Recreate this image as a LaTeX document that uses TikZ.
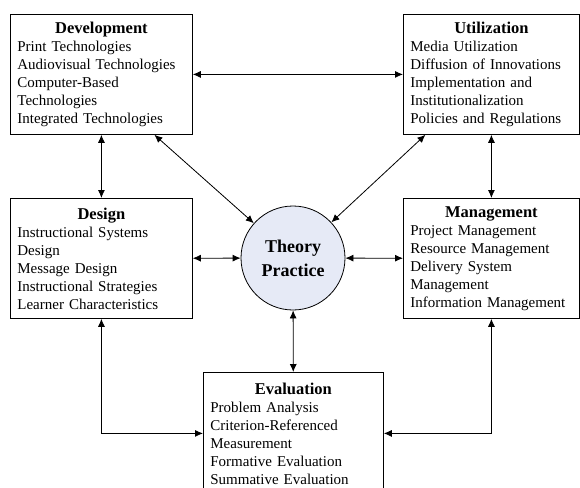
\documentclass[tikz,border=0pt]{standalone}
\usepackage{fontspec}
\setmainfont{Liberation Serif}
\usetikzlibrary{arrows.meta}
\definecolor{tpblue}{RGB}{230,234,246}
\tikzset{
	area/.style={draw, anchor=north west, text width=#1, align=left, inner xsep=7pt, minimum height=120pt, font=\fontsize{15}{18}\selectfont},
	hub/.style={draw, circle, fill=tpblue, minimum size=104pt, align=center, font=\fontsize{18}{24}\selectfont\bfseries}
}
\newcommand{\areatitle}[1]{\hbox to\hsize{\hss\fontsize{16.5}{19}\selectfont\bfseries #1\hss}\\}
\begin{document}
\begin{tikzpicture}[x=1pt,y=-1pt,line width=0.8pt,>={Latex[length=8pt,width=7pt]}]
		\useasboundingbox (0,0) rectangle (580,487);
		\node[area=168pt] (dev) at (10,14) {\areatitle{Development}Print Technologies\\Audiovisual Technologies\\Computer-Based\\Technologies\\Integrated Technologies};
		\node[area=162pt] (util) at (403,14) {\areatitle{Utilization}Media Utilization\\Diffusion of Innovations\\Implementation and\\Institutionalization\\Policies and Regulations};
		\node[area=168pt] (des) at (10,198) {\areatitle{Design}Instructional Systems\\Design\\Message Design\\Instructional Strategies\\Learner Characteristics};
		\node[area=162pt] (mgmt) at (403,198) {\areatitle{Management}Project Management\\Resource Management\\Delivery System\\Management\\Information Management};
		\node[area=166pt,minimum height=122pt] (eval) at (203,372) {\areatitle{Evaluation}Problem Analysis\\Criterion-Referenced\\Measurement\\Formative Evaluation\\Summative Evaluation};
		\node[hub] (tp) at (293,258) {Theory\\Practice};
		\coordinate (d1) at ([xshift=53pt]dev.south);
		\coordinate (u1) at ([xshift=-66pt]util.south);
		\draw[<->] (dev) -- (util);
		\draw[<->] (dev) -- (des);
		\draw[<->] (util) -- (mgmt);
		\draw[<->] (d1) -- (tp);
		\draw[<->] (u1) -- (tp);
		\draw[<->] (des) -- (tp);
		\draw[<->] (tp) -- (mgmt);
		\draw[<->] (tp) -- (eval);
		\draw[<->] (des) |- (eval);
		\draw[<->] (mgmt) |- (eval);
	\end{tikzpicture}
\end{document}
